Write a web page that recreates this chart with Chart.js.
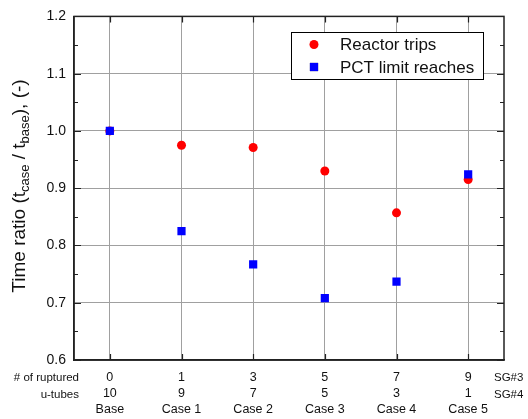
<!DOCTYPE html>
<html>
<head>
<meta charset="utf-8">
<script src="https://cdn.jsdelivr.net/npm/chart.js@4/dist/chart.umd.min.js"></script>
<style>
  html, body { margin: 0; padding: 0; background: #fff; }
  #wrap { width: 528px; height: 419px; position: relative; }
</style>
</head>
<body>
<div id="wrap"><canvas id="c" width="528" height="419"></canvas></div>
<script>
const categories = ['Base', 'Case 1', 'Case 2', 'Case 3', 'Case 4', 'Case 5'];
const sg3Tubes = [0, 1, 3, 5, 7, 9];
const sg4Tubes = [10, 9, 7, 5, 3, 1];
const reactorTrips = [1.000, 0.975, 0.971, 0.930, 0.857, 0.915];
const pctLimitReaches = [1.000, 0.825, 0.767, 0.708, 0.737, 0.924];
const yTickValues = [0.6, 0.7, 0.8, 0.9, 1.0, 1.1, 1.2];
const seriesNames = ['Reactor trips', 'PCT limit reaches'];
const rowLabels = ['# of ruptured', 'u-tubes'];
const sgLabels = ['SG#3', 'SG#4'];

const FONT = '"Liberation Sans", Arial, Helvetica, sans-serif';
const AXIS = '#222';
const TEXT = '#111';

const framePlugin = {
  id: 'frame',
  afterDraw(chart) {
    const ctx = chart.ctx;
    const a = chart.chartArea;
    const xs = chart.scales.x, ys = chart.scales.y;
    ctx.save();
    // frame
    ctx.strokeStyle = AXIS;
    ctx.lineWidth = 1.5;
    ctx.strokeRect(a.left, a.top, a.right - a.left, a.bottom - a.top);
    // y ticks (inward, left and right)
    ctx.lineWidth = 1.2;
    ctx.beginPath();
    for (let i = 0; i < yTickValues.length; i++) {
      const v = yTickValues[i];
      const p = Math.round(ys.getPixelForValue(v)) + 0.5;
      ctx.moveTo(a.left, p); ctx.lineTo(a.left + 7, p);
      ctx.moveTo(a.right, p); ctx.lineTo(a.right - 7, p);
      if (i < yTickValues.length - 1) {
        const m = Math.round(ys.getPixelForValue((v + yTickValues[i + 1]) / 2)) + 0.5;
        ctx.moveTo(a.left, m); ctx.lineTo(a.left + 4, m);
        ctx.moveTo(a.right, m); ctx.lineTo(a.right - 4, m);
      }
    }
    categories.forEach((c, i) => {
      const p = Math.round(xs.getPixelForValue(i)) + 0.5;
      ctx.moveTo(p, a.bottom); ctx.lineTo(p, a.bottom - 6);
      ctx.moveTo(p, a.top); ctx.lineTo(p, a.top + 6);
    });
    ctx.stroke();

    // side labels
    ctx.fillStyle = TEXT;
    ctx.font = '11.5px ' + FONT;
    ctx.textBaseline = 'middle';
    ctx.textAlign = 'right';
    ctx.fillText(rowLabels[0], 79, a.bottom + 18);
    ctx.fillText(rowLabels[1], 79, a.bottom + 35);
    ctx.textAlign = 'left';
    ctx.fillText(sgLabels[0], 494, a.bottom + 18);
    ctx.fillText(sgLabels[1], 494, a.bottom + 35);

    // legend
    const lx = 291.5, ly = 32.5, lw = 192, lh = 47;
    ctx.fillStyle = '#fff';
    ctx.fillRect(lx, ly, lw, lh);
    ctx.strokeStyle = '#000';
    ctx.lineWidth = 1;
    ctx.strokeRect(lx, ly, lw, lh);
    const ds = chart.data.datasets;
    const rows = [44.5, 67];
    ds.slice().sort((p, q) => seriesNames.indexOf(p.label) - seriesNames.indexOf(q.label)).forEach((d, k) => {
      Chart.helpers.drawPoint(ctx, {
        pointStyle: d.pointStyle, radius: d.pointRadius, borderWidth: 0, rotation: 0
      }, 314, rows[k]);
      ctx.fillStyle = d.backgroundColor;
      ctx.fill();
      ctx.fillStyle = TEXT;
      ctx.font = '17px ' + FONT;
      ctx.textAlign = 'left';
      ctx.textBaseline = 'middle';
      ctx.fillText(d.label, 340, rows[k] + 1);
    });

    // y axis title with subscripts
    const parts = [
      ['Time ratio (t', 19, 0], ['case', 13, 5], [' / t', 19, 0], ['base', 13, 5], ['), (-)', 19, 0]
    ];
    let total = 0;
    parts.forEach(p => { ctx.font = p[1] + 'px ' + FONT; total += ctx.measureText(p[0]).width; });
    ctx.translate(20, 186);
    ctx.rotate(-Math.PI / 2);
    ctx.textAlign = 'left';
    ctx.textBaseline = 'middle';
    ctx.fillStyle = TEXT;
    let cx = -total / 2;
    parts.forEach(p => {
      ctx.font = p[1] + 'px ' + FONT;
      ctx.fillText(p[0], cx, p[2]);
      cx += ctx.measureText(p[0]).width;
    });
    ctx.restore();
  }
};

new Chart(document.getElementById('c'), {
  type: 'scatter',
  data: {
    datasets: [
      {
        label: seriesNames[0],
        data: reactorTrips.map((v, i) => ({ x: i, y: v })),
        pointStyle: 'circle',
        pointRadius: 4.5,
        pointHoverRadius: 4.5,
        pointBorderWidth: 0,
        backgroundColor: '#ff0000',
        borderColor: '#ff0000',
        order: 2
      },
      {
        label: seriesNames[1],
        data: pctLimitReaches.map((v, i) => ({ x: i, y: v })),
        pointStyle: 'rect',
        pointRadius: 5.8,
        pointHoverRadius: 5.8,
        pointBorderWidth: 0,
        backgroundColor: '#0000ff',
        borderColor: '#0000ff',
        order: 1
      }
    ]
  },
  options: {
    responsive: false,
    animation: false,
    events: [],
    layout: { padding: { top: 14, right: 24, left: 0, bottom: 0 } },
    plugins: { legend: { display: false }, tooltip: { enabled: false } },
    scales: {
      x: {
        type: 'linear',
        min: -0.5,
        max: 5.5,
        afterBuildTicks: (s) => { s.ticks = categories.map((c, i) => ({ value: i })); },
        afterFit: (s) => { s.height = 59; },
        ticks: {
          autoSkip: false,
          maxRotation: 0,
          minRotation: 0,
          padding: 10,
          color: TEXT,
          font: { family: FONT, size: 12.5, lineHeight: 16 / 12.5 },
          callback: (v) => [String(sg3Tubes[v]), String(sg4Tubes[v]), categories[v]]
        },
        grid: { color: '#a0a0a0', lineWidth: 1, drawTicks: false },
        border: { display: true, color: AXIS, width: 1.5 }
      },
      y: {
        min: 0.6,
        max: 1.2,
        afterBuildTicks: (s) => { s.ticks = yTickValues.map(v => ({ value: v })); },
        afterFit: (s) => { s.width = 74; },
        ticks: {
          padding: 8,
          color: TEXT,
          font: { family: FONT, size: 14 },
          callback: (v) => Number(v).toFixed(1)
        },
        grid: { color: '#a0a0a0', lineWidth: 1, drawTicks: false },
        border: { display: true, color: AXIS, width: 1.5 }
      }
    }
  },
  plugins: [framePlugin]
});
</script>
</body>
</html>
